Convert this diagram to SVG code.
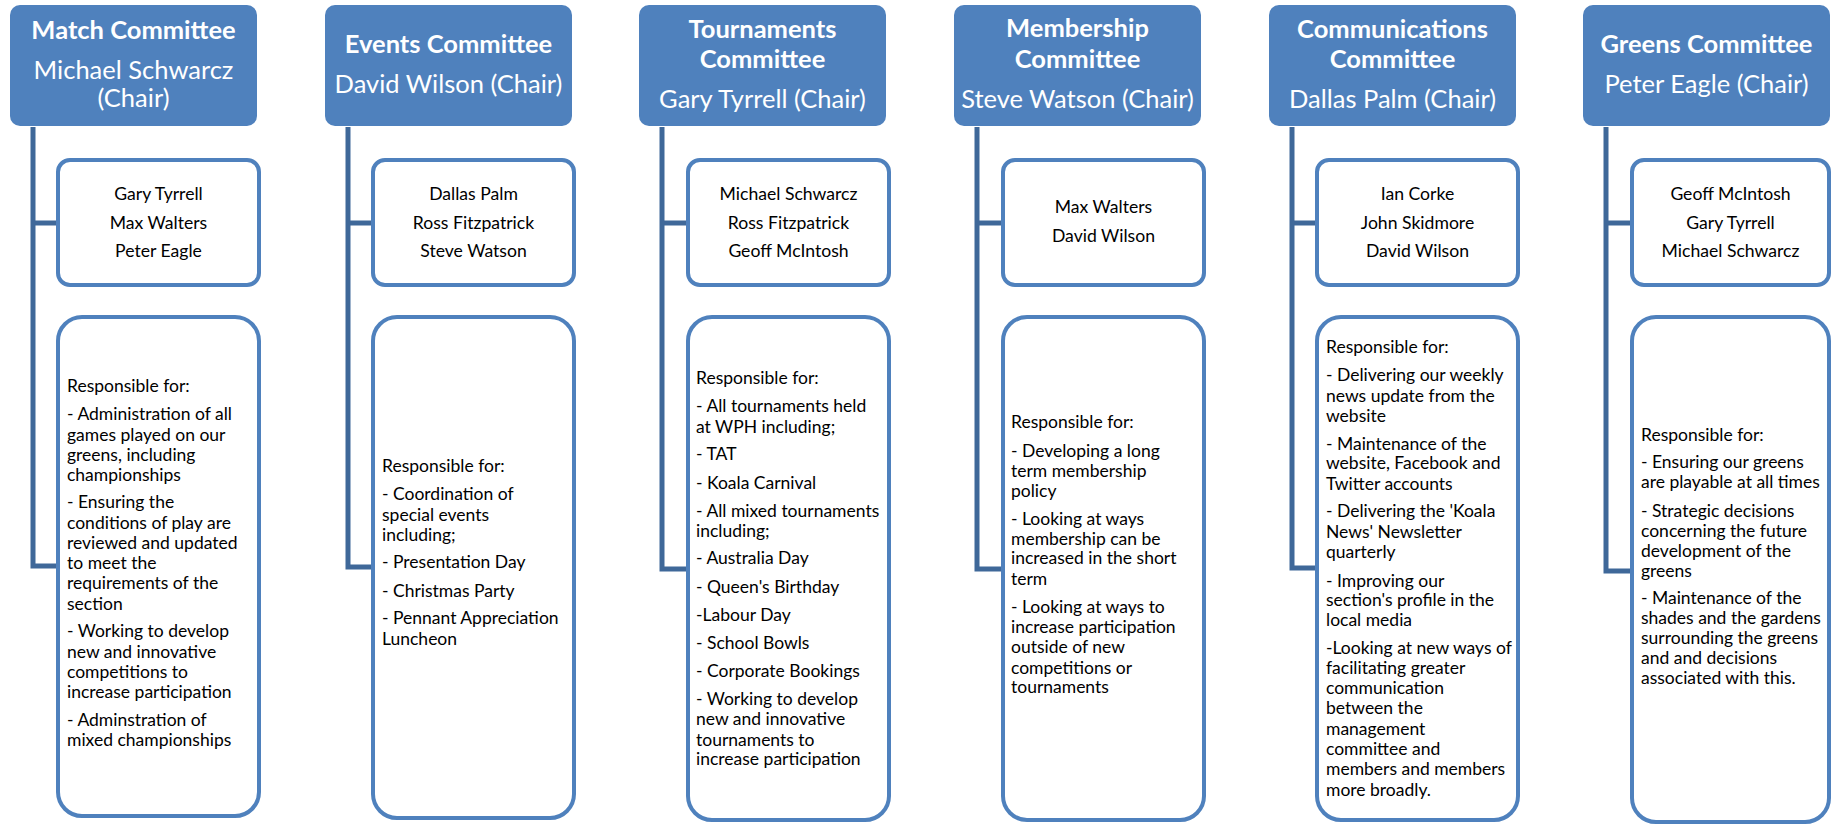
<svg xmlns="http://www.w3.org/2000/svg" width="1832" height="832" viewBox="0 0 1832 832">
<style>
.hdr{fill:#4F81BD;}
.box{fill:#FFFFFF;stroke:#4F81BD;stroke-width:4;}
.conn{fill:none;stroke:#3F6899;stroke-width:5;stroke-linejoin:miter;}
.ht{font-family:Lato,"Liberation Sans",sans-serif;font-size:25.5px;fill:#FFFFFF;text-anchor:middle;}
.hb{font-weight:bold;}
.mt{font-family:Lato,"Liberation Sans",sans-serif;font-size:17.6px;fill:#000000;text-anchor:middle;}
.rt{font-family:Lato,"Liberation Sans",sans-serif;font-size:17.5px;fill:#000000;}
</style>
<rect width="1832" height="832" fill="#FFFFFF"/>
<g id="connectors">
<path class="conn" d="M33,127 V566 H58 M33,223 H58"/>
<path class="conn" d="M348,127 V567 H373 M348,223 H373"/>
<path class="conn" d="M662,127 V569 H688 M662,223 H688"/>
<path class="conn" d="M977,127 V569 H1003 M977,223 H1003"/>
<path class="conn" d="M1292,127 V568 H1317 M1292,223 H1317"/>
<path class="conn" d="M1606,127 V571 H1632 M1606,223 H1632"/>
</g>

<g id="match-header">
<rect class="hdr" x="10" y="5" width="247" height="121" rx="10"/>
<text class="ht hb" x="133.5" y="39">Match Committee</text>
<text class="ht" x="133.5" y="79">Michael Schwarcz</text>
<text class="ht" x="133.5" y="107">(Chair)</text>
</g>
<g id="match-members">
<rect class="box" x="58" y="160" width="201" height="125" rx="12"/>
<text class="mt" x="158.5" y="200">Gary Tyrrell</text>
<text class="mt" x="158.5" y="229">Max Walters</text>
<text class="mt" x="158.5" y="257">Peter Eagle</text>
</g>
<g id="match-resp">
<rect class="box" x="58" y="317" width="201" height="499" rx="24"/>
<text class="rt">
<tspan x="67" y="392">Responsible for:</tspan>
<tspan x="67" y="420">- Administration of all</tspan>
<tspan x="67" y="441">games played on our</tspan>
<tspan x="67" y="461">greens, including</tspan>
<tspan x="67" y="481">championships</tspan>
<tspan x="67" y="508">- Ensuring the</tspan>
<tspan x="67" y="529">conditions of play are</tspan>
<tspan x="67" y="549">reviewed and updated</tspan>
<tspan x="67" y="569">to meet the</tspan>
<tspan x="67" y="589">requirements of the</tspan>
<tspan x="67" y="610">section</tspan>
<tspan x="67" y="637">- Working to develop</tspan>
<tspan x="67" y="658">new and innovative</tspan>
<tspan x="67" y="678">competitions to</tspan>
<tspan x="67" y="698">increase participation</tspan>
<tspan x="67" y="726">- Adminstration of</tspan>
<tspan x="67" y="746">mixed championships</tspan>
</text>
</g>

<g id="events-header">
<rect class="hdr" x="325" y="5" width="247" height="121" rx="10"/>
<text class="ht hb" x="448.5" y="53">Events Committee</text>
<text class="ht" x="448.5" y="93">David Wilson (Chair)</text>
</g>
<g id="events-members">
<rect class="box" x="373" y="160" width="201" height="125" rx="12"/>
<text class="mt" x="473.5" y="200">Dallas Palm</text>
<text class="mt" x="473.5" y="229">Ross Fitzpatrick</text>
<text class="mt" x="473.5" y="257">Steve Watson</text>
</g>
<g id="events-resp">
<rect class="box" x="373" y="317" width="201" height="501" rx="24"/>
<text class="rt">
<tspan x="382" y="472">Responsible for:</tspan>
<tspan x="382" y="500">- Coordination of</tspan>
<tspan x="382" y="521">special events</tspan>
<tspan x="382" y="541">including;</tspan>
<tspan x="382" y="568">- Presentation Day</tspan>
<tspan x="382" y="597">- Christmas Party</tspan>
<tspan x="382" y="624">- Pennant Appreciation</tspan>
<tspan x="382" y="645">Luncheon</tspan>
</text>
</g>

<g id="tournaments-header">
<rect class="hdr" x="639" y="5" width="247" height="121" rx="10"/>
<text class="ht hb" x="762.5" y="38">Tournaments</text>
<text class="ht hb" x="762.5" y="68">Committee</text>
<text class="ht" x="762.5" y="108">Gary Tyrrell (Chair)</text>
</g>
<g id="tournaments-members">
<rect class="box" x="688" y="160" width="201" height="125" rx="12"/>
<text class="mt" x="788.5" y="200">Michael Schwarcz</text>
<text class="mt" x="788.5" y="229">Ross Fitzpatrick</text>
<text class="mt" x="788.5" y="257">Geoff McIntosh</text>
</g>
<g id="tournaments-resp">
<rect class="box" x="688" y="317" width="201" height="503" rx="24"/>
<text class="rt">
<tspan x="696" y="384">Responsible for:</tspan>
<tspan x="696" y="412">- All tournaments held</tspan>
<tspan x="696" y="433">at WPH including;</tspan>
<tspan x="696" y="460">- TAT</tspan>
<tspan x="696" y="489">- Koala Carnival</tspan>
<tspan x="696" y="517">- All mixed tournaments</tspan>
<tspan x="696" y="537">including;</tspan>
<tspan x="696" y="564">- Australia Day</tspan>
<tspan x="696" y="593">- Queen's Birthday</tspan>
<tspan x="696" y="621">-Labour Day</tspan>
<tspan x="696" y="649">- School Bowls</tspan>
<tspan x="696" y="677">- Corporate Bookings</tspan>
<tspan x="696" y="705">- Working to develop</tspan>
<tspan x="696" y="725">new and innovative</tspan>
<tspan x="696" y="746">tournaments to</tspan>
<tspan x="696" y="765">increase participation</tspan>
</text>
</g>

<g id="membership-header">
<rect class="hdr" x="954" y="5" width="247" height="121" rx="10"/>
<text class="ht hb" x="1077.5" y="37">Membership</text>
<text class="ht hb" x="1077.5" y="68">Committee</text>
<text class="ht" x="1077.5" y="108">Steve Watson (Chair)</text>
</g>
<g id="membership-members">
<rect class="box" x="1003" y="160" width="201" height="125" rx="12"/>
<text class="mt" x="1103.5" y="213">Max Walters</text>
<text class="mt" x="1103.5" y="242">David Wilson</text>
</g>
<g id="membership-resp">
<rect class="box" x="1003" y="317" width="201" height="503" rx="24"/>
<text class="rt">
<tspan x="1011" y="428">Responsible for:</tspan>
<tspan x="1011" y="457">- Developing a long</tspan>
<tspan x="1011" y="477">term membership</tspan>
<tspan x="1011" y="497">policy</tspan>
<tspan x="1011" y="525">- Looking at ways</tspan>
<tspan x="1011" y="545">membership can be</tspan>
<tspan x="1011" y="564">increased in the short</tspan>
<tspan x="1011" y="585">term</tspan>
<tspan x="1011" y="613">- Looking at ways to</tspan>
<tspan x="1011" y="633">increase participation</tspan>
<tspan x="1011" y="653">outside of new</tspan>
<tspan x="1011" y="674">competitions or</tspan>
<tspan x="1011" y="693">tournaments</tspan>
</text>
</g>

<g id="communications-header">
<rect class="hdr" x="1269" y="5" width="247" height="121" rx="10"/>
<text class="ht hb" x="1392.5" y="38">Communications</text>
<text class="ht hb" x="1392.5" y="68">Committee</text>
<text class="ht" x="1392.5" y="108">Dallas Palm (Chair)</text>
</g>
<g id="communications-members">
<rect class="box" x="1317" y="160" width="201" height="125" rx="12"/>
<text class="mt" x="1417.5" y="200">Ian Corke</text>
<text class="mt" x="1417.5" y="229">John Skidmore</text>
<text class="mt" x="1417.5" y="257">David Wilson</text>
</g>
<g id="communications-resp">
<rect class="box" x="1317" y="317" width="201" height="503" rx="24"/>
<text class="rt">
<tspan x="1326" y="353">Responsible for:</tspan>
<tspan x="1326" y="381">- Delivering our weekly</tspan>
<tspan x="1326" y="402">news update from the</tspan>
<tspan x="1326" y="422">website</tspan>
<tspan x="1326" y="450">- Maintenance of the</tspan>
<tspan x="1326" y="469">website, Facebook and</tspan>
<tspan x="1326" y="490">Twitter accounts</tspan>
<tspan x="1326" y="517">- Delivering the 'Koala</tspan>
<tspan x="1326" y="538">News' Newsletter</tspan>
<tspan x="1326" y="558">quarterly</tspan>
<tspan x="1326" y="587">- Improving our</tspan>
<tspan x="1326" y="606">section's profile in the</tspan>
<tspan x="1326" y="626">local media</tspan>
<tspan x="1326" y="654">-Looking at new ways of</tspan>
<tspan x="1326" y="674">facilitating greater</tspan>
<tspan x="1326" y="694">communication</tspan>
<tspan x="1326" y="714">between the</tspan>
<tspan x="1326" y="735">management</tspan>
<tspan x="1326" y="755">committee and</tspan>
<tspan x="1326" y="775">members and members</tspan>
<tspan x="1326" y="796">more broadly.</tspan>
</text>
</g>

<g id="greens-header">
<rect class="hdr" x="1583" y="5" width="247" height="121" rx="10"/>
<text class="ht hb" x="1706.5" y="53">Greens Committee</text>
<text class="ht" x="1706.5" y="93">Peter Eagle (Chair)</text>
</g>
<g id="greens-members">
<rect class="box" x="1632" y="160" width="197" height="125" rx="12"/>
<text class="mt" x="1730.5" y="200">Geoff McIntosh</text>
<text class="mt" x="1730.5" y="229">Gary Tyrrell</text>
<text class="mt" x="1730.5" y="257">Michael Schwarcz</text>
</g>
<g id="greens-resp">
<rect class="box" x="1632" y="317" width="197" height="505" rx="24"/>
<text class="rt">
<tspan x="1641" y="441">Responsible for:</tspan>
<tspan x="1641" y="468">- Ensuring our greens</tspan>
<tspan x="1641" y="488">are playable at all times</tspan>
<tspan x="1641" y="517">- Strategic decisions</tspan>
<tspan x="1641" y="537">concerning the future</tspan>
<tspan x="1641" y="557">development of the</tspan>
<tspan x="1641" y="577">greens</tspan>
<tspan x="1641" y="604">- Maintenance of the</tspan>
<tspan x="1641" y="624">shades and the gardens</tspan>
<tspan x="1641" y="644">surrounding the greens</tspan>
<tspan x="1641" y="664">and and decisions</tspan>
<tspan x="1641" y="684">associated with this.</tspan>
</text>
</g>
</svg>
